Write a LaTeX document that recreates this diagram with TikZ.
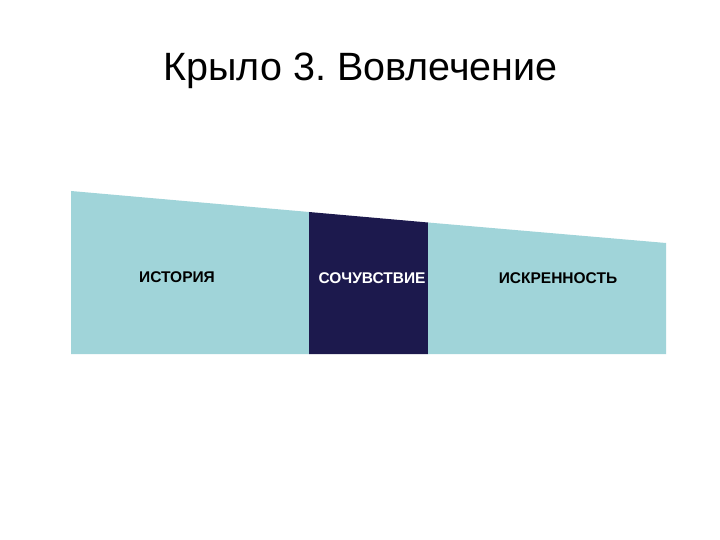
\documentclass[tikz,border=0pt]{standalone}
\usepackage{fontspec}
\setmainfont{Liberation Sans}
\frenchspacing
\definecolor{lightteal}{RGB}{160,212,217}
\definecolor{navyblue}{RGB}{28,25,77}
\begin{document}
\begin{tikzpicture}[x=1pt,y=-1pt,
  lbl/.style={font=\fontsize{15.5}{17}\selectfont\bfseries, inner sep=0pt, anchor=base},
  title/.style={font=\fontsize{39.5}{44}\selectfont, inner sep=0pt, anchor=base}]
\useasboundingbox (0,0) rectangle (720,540);
\fill[white] (0,0) rectangle (720,540);
\node[title] (t) at (360.5,81) {Крыло 3. Вовлечение};
\fill[lightteal] (71,191) -- (309,212) -- (309,354) -- (71,354) -- cycle;
\fill[navyblue] (309,212) -- (428,222.5) -- (428,354) -- (309,354) -- cycle;
\fill[lightteal] (428,222.5) -- (666,243) -- (666,354) -- (428,354) -- cycle;
\node[lbl] (a) at (177,282.5) {ИСТОРИЯ};
\node[lbl,text=white] (b) at (372,283.5) {СОЧУВСТВИЕ};
\node[lbl] (c) at (558,283.5) {ИСКРЕННОСТЬ};
\end{tikzpicture}
\end{document}
